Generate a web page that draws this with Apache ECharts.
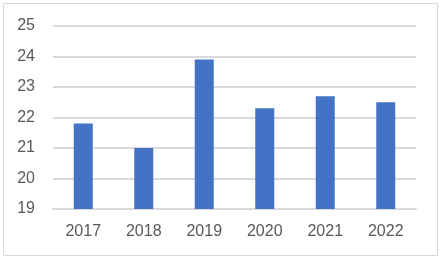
<!DOCTYPE html>
<html>
<head>
<meta charset="utf-8">
<script src="https://cdn.jsdelivr.net/npm/echarts@6/dist/echarts.min.js"></script>
<style>
html,body{margin:0;padding:0;background:#fff;}
#c{width:443px;height:259px;}
</style>
</head>
<body>
<div id="c"></div>
<script>
const categories = ['2017', '2018', '2019', '2020', '2021', '2022'];
const values = [21.8, 21.0, 23.9, 22.3, 22.7, 22.5];
const yMin = 19, yMax = 25, yStep = 1;

const chart = echarts.init(document.getElementById('c'), null, {renderer: 'canvas'});
chart.setOption({
  animation: false,
  backgroundColor: '#fff',
  graphic: [{
    type: 'rect', silent: true,
    shape: {x: 3.5, y: 3.5, width: 434, height: 252},
    style: {fill: 'none', stroke: '#d9d9d9', lineWidth: 1}
  }],
  grid: {left: 53, right: 27, top: 26, bottom: 50, outerBoundsMode: 'none', containLabel: false},
  xAxis: {
    type: 'category', data: categories,
    axisLine: {show: true, lineStyle: {color: '#d9d9d9', width: 2}},
    axisTick: {show: false},
    axisLabel: {color: '#595959', fontSize: 16, fontFamily: 'Liberation Sans', margin: 15}
  },
  yAxis: {
    type: 'value', min: yMin, max: yMax, interval: yStep,
    axisLine: {show: false}, axisTick: {show: false},
    splitLine: {lineStyle: {color: '#d9d9d9', width: 2}},
    axisLabel: {color: '#595959', fontSize: 16, fontFamily: 'Liberation Sans', margin: 18}
  },
  series: [{
    type: 'bar', data: values, barWidth: 19,
    itemStyle: {color: '#4472c4'}
  }]
});
</script>
</body>
</html>
